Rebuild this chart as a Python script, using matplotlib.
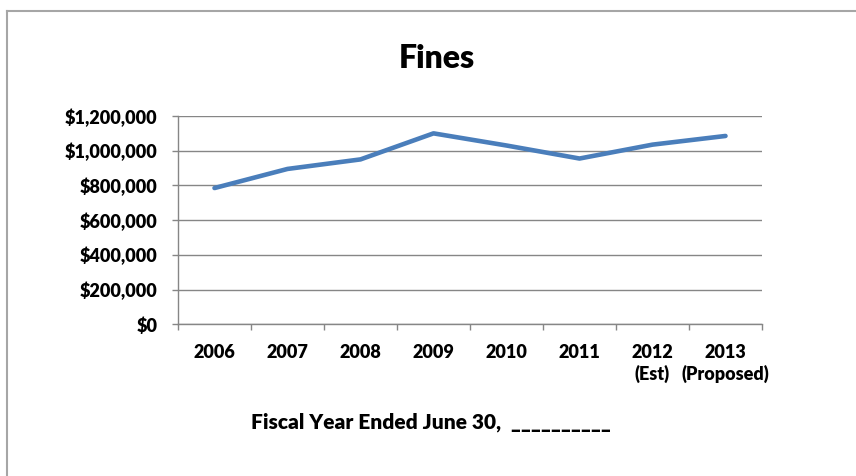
import matplotlib
matplotlib.use("Agg")
import matplotlib.pyplot as plt
from matplotlib.lines import Line2D
from matplotlib.ticker import FuncFormatter, FixedLocator

years = ["2006", "2007", "2008", "2009", "2010", "2011", "2012\n(Est)", "2013\n(Proposed)"]
fines = [785000, 895000, 950000, 1100000, 1030000, 955000, 1035000, 1085000]
y_ticks = [0, 200000, 400000, 600000, 800000, 1000000, 1200000]

plt.rcParams['font.family'] = ['Lato', 'DejaVu Sans']
plt.rcParams['font.weight'] = 'heavy'
WT = 'heavy'

W, H = 856, 476
fig = plt.figure(figsize=(W / 100, H / 100), dpi=100)
fig.patch.set_facecolor('white')

# outer chart frame (left & top visible)
fc = '#a6a6a6'
fig.add_artist(Line2D([6.5 / W, 6.5 / W], [0, 1 - 11 / H], color=fc, lw=1.5, transform=fig.transFigure))
fig.add_artist(Line2D([6.5 / W, 1.0], [1 - 11 / H, 1 - 11 / H], color=fc, lw=1.5, transform=fig.transFigure))

left, right = 178 / W, 762 / W
bottom, top = 1 - 324.3 / H, 1 - 116 / H
ax = fig.add_axes([left, bottom, right - left, top - bottom])

x = list(range(len(years)))
ax.plot(x, fines, color='#4A7EBB', lw=3.3, solid_capstyle='round', solid_joinstyle='round', zorder=3)

ax.set_xlim(-0.5, len(years) - 0.5)
ax.set_ylim(0, 1200000)

gc = '#868686'
ax.yaxis.set_major_locator(FixedLocator(y_ticks))
ax.yaxis.set_major_formatter(FuncFormatter(lambda v, p: "${:,.0f}".format(v)))
ax.grid(axis='y', color=gc, lw=1.0, zorder=0)
ax.set_axisbelow(True)

ax.set_xticks(x)
ax.set_xticklabels(years, linespacing=1.3)
ax.set_xticks([i - 0.5 for i in range(len(years) + 1)], minor=True)
ax.tick_params(axis='x', which='major', length=0, pad=14, labelsize=13)
ax.tick_params(axis='x', which='minor', length=4, width=1, color=gc, direction='out')
ax.tick_params(axis='y', which='major', length=4, width=1, color=gc, direction='out', pad=11, labelsize=13)
for lab in ax.get_xticklabels() + ax.get_yticklabels():
    lab.set_fontweight(WT)

for s in ['top', 'right']:
    ax.spines[s].set_visible(False)
for s in ['left', 'bottom']:
    ax.spines[s].set_color(gc)
    ax.spines[s].set_linewidth(1.0)

fig.text(436.7 / W, 1 - 58 / H, "Fines", ha='center', va='center', fontsize=23, fontweight=WT)
fig.text(431 / W, 1 - 422 / H, "Fiscal Year Ended June 30,  __________", ha='center', va='center',
         fontsize=15, fontweight=WT)

fig.savefig("out.png", dpi=100, facecolor='white')
